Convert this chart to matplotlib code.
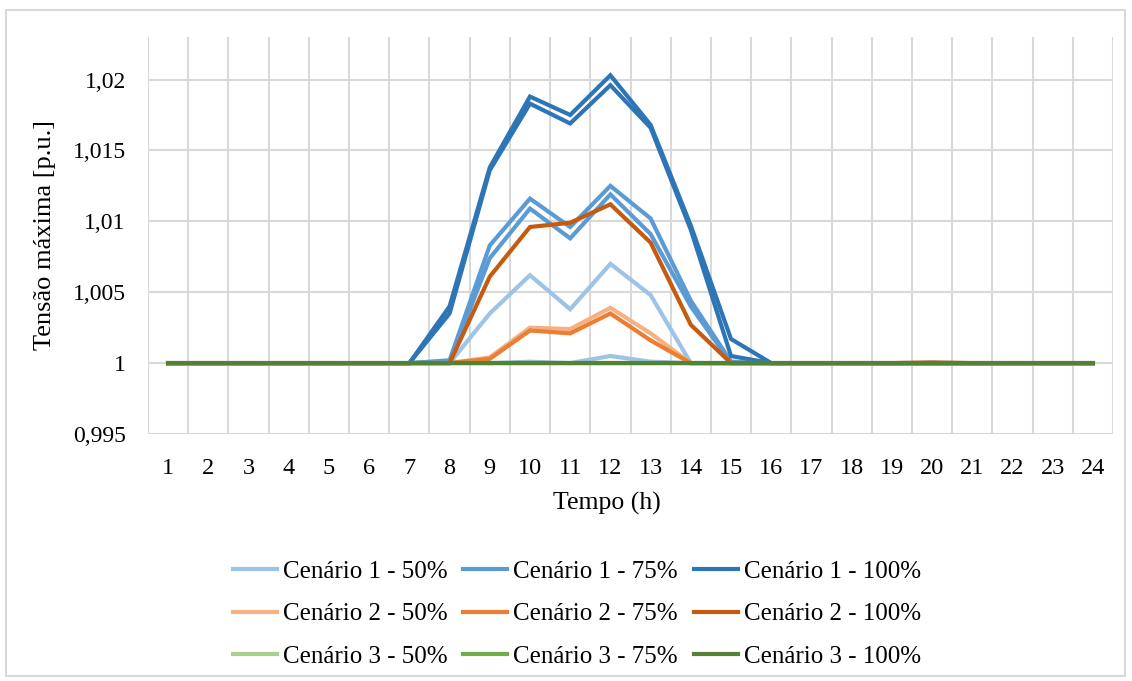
import matplotlib
matplotlib.use('Agg')
import matplotlib.pyplot as plt
from matplotlib.patches import Rectangle

plt.rcParams['font.family'] = ['Liberation Serif', 'DejaVu Serif']

# horas
horas = list(range(1, 25))

# Cenario 1 (azul) - cada nivel tem duas curvas muito proximas
c1_50 = [1.0] * 7 + [1.0, 1.0035, 1.0062, 1.0038, 1.0070, 1.0048, 1.0] + [1.0] * 10
c1_50b = [1.0] * 7 + [1.0001, 1.0, 1.0001, 1.0, 1.0005, 1.0001, 1.0] + [1.0] * 10
c1_75 = [1.0] * 7 + [1.0002, 1.0083, 1.0116, 1.0096, 1.0125, 1.0102, 1.0044, 1.0001] + [1.0] * 9
c1_75b = [1.0] * 7 + [1.0001, 1.0074, 1.0109, 1.0088, 1.0119, 1.0091, 1.0040, 1.0] + [1.0] * 9
c1_100 = [1.0] * 7 + [1.0040, 1.0138, 1.0188, 1.0175, 1.0203, 1.0168, 1.0097, 1.0017, 1.0] + [1.0] * 8
c1_100b = [1.0] * 7 + [1.0035, 1.0136, 1.0183, 1.0169, 1.0196, 1.0166, 1.0094, 1.0005, 1.0] + [1.0] * 8

# Cenario 2 (laranja)
c2_50 = [1.0] * 8 + [1.0004, 1.0025, 1.0024, 1.0039, 1.0021, 1.0] + [1.0] * 10
c2_75 = [1.0] * 8 + [1.0003, 1.0023, 1.0021, 1.0035, 1.0016, 1.0] + [1.0] * 10
c2_100 = [1.0] * 8 + [1.0061, 1.0096, 1.0099, 1.0112, 1.0085, 1.0027, 1.0] + [1.0] * 4 + [1.00005] + [1.0] * 4

# Cenario 3 (verde)
c3_50 = [1.0] * 24
c3_75 = [1.0] * 18 + [0.99997, 0.99997, 0.99997] + [1.0] * 3
c3_100 = [1.0] * 24

series = [
    (c1_50, 'Cenário 1 - 50%', '#9DC3E6'),
    (c1_50b, None, '#9DC3E6'),
    (c1_75, 'Cenário 1 - 75%', '#5B9BD5'),
    (c1_75b, None, '#5B9BD5'),
    (c1_100, 'Cenário 1 - 100%', '#2E75B6'),
    (c1_100b, None, '#2E75B6'),
    (c2_50, 'Cenário 2 - 50%', '#F4B183'),
    (c2_75, 'Cenário 2 - 75%', '#ED7D31'),
    (c2_100, 'Cenário 2 - 100%', '#C55A11'),
    (c3_50, 'Cenário 3 - 50%', '#A9D18E'),
    (c3_75, 'Cenário 3 - 75%', '#70AD47'),
    (c3_100, 'Cenário 3 - 100%', '#548235'),
]

fig = plt.figure(figsize=(11.32, 6.81), dpi=100)
fig.patches.append(Rectangle((6 / 1132, 5 / 681), 1119 / 1132, 666 / 681, transform=fig.transFigure,
                             fill=False, edgecolor='#D9D9D9', linewidth=1.5))
ax = fig.add_axes([148 / 1132, 1 - 434 / 681, 965 / 1132, 397 / 681])

handles = []
labels = []
for vals, lab, cor in series:
    ln, = ax.plot(horas, vals, color=cor, linewidth=3.0, solid_joinstyle='miter')
    if lab:
        handles.append(ln)
        labels.append(lab)

ax.set_xlim(0.5, 24.5)
ax.set_ylim(0.995, 1.023)
ax.set_xticks(horas)
ax.set_xticks([h + 0.5 for h in range(0, 25)], minor=True)
yt = [0.995, 1.0, 1.005, 1.01, 1.015, 1.02]
ax.set_yticks(yt)
ax.set_yticklabels(['0,995', '1', '1,005', '1,01', '1,015', '1,02'])
ax.grid(True, which='minor', axis='x', color='#D9D9D9', linewidth=1.5)
ax.grid(True, which='major', axis='y', color='#D9D9D9', linewidth=1.5)
ax.set_axisbelow(True)
for s in ax.spines.values():
    s.set_visible(False)
ax.tick_params(which='both', length=0, labelsize=17.5)
ax.tick_params(axis='x', pad=17)
ax.tick_params(axis='y', pad=16, labelsize=17)

ax.set_xlabel('Tempo (h)', fontsize=18.5, va='center')
ax.xaxis.set_label_coords((607 - 148) / 965, -(503 - 434) / 397)
ax.set_ylabel('Tensão máxima [p.u.]', fontsize=19, labelpad=12)

# legenda preenche por coluna: reordenar para ler por linha
ordem = [0, 3, 6, 1, 4, 7, 2, 5, 8]
fig.legend([handles[i] for i in ordem], [labels[i] for i in ordem], ncol=3, loc='center',
           bbox_to_anchor=(577 / 1132, 1 - 614 / 681),
           frameon=False, fontsize=18, handlelength=1.76, handletextpad=0.24,
           columnspacing=0.64, labelspacing=0.8)

fig.savefig('out.png', dpi=100)
